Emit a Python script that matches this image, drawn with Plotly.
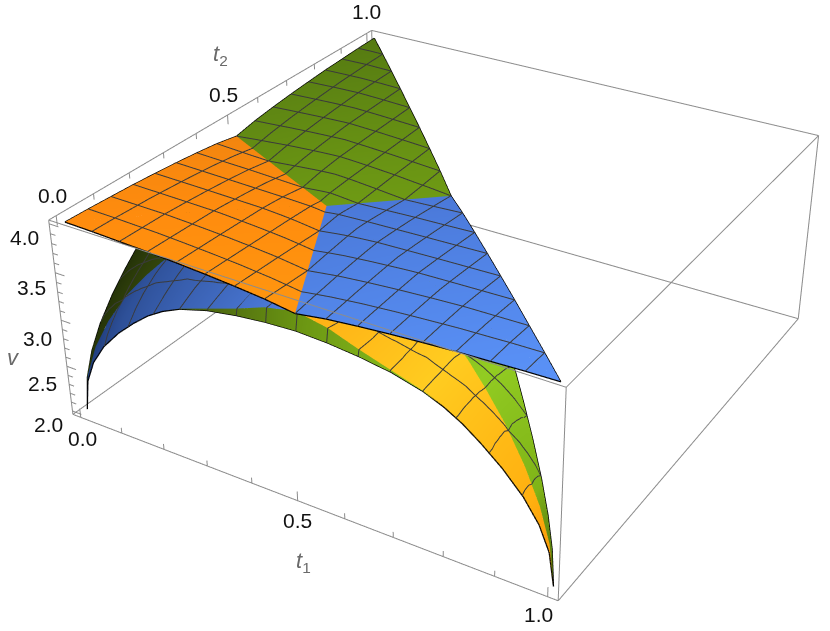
import numpy as np
import plotly.graph_objects as go

# ---- values: one sextant table, shared by symmetry ----
TOP_R = [0, 0.125, 0.25, 0.375, 0.5, 0.625, 0.75, 0.875, 1.0]
TOP_S = [0, 0.25, 0.5, 0.75, 1.0]
TOP_V = [[4.0, 4.0, 4.0, 4.0, 4.0],
         [3.992, 3.992, 3.992, 3.992, 3.992],
         [3.98, 3.98, 3.98, 3.98, 3.98],
         [3.968, 3.969, 3.97, 3.97, 3.97],
         [3.95, 3.952, 3.954, 3.955, 3.955],
         [3.93, 3.933, 3.936, 3.938, 3.94],
         [3.905, 3.91, 3.914, 3.918, 3.92],
         [3.875, 3.88, 3.888, 3.895, 3.90],
         [3.83, 3.84, 3.85, 3.86, 3.87]]
LOW_R = [0, 0.02, 0.06, 0.12, 0.2, 0.28, 0.35, 0.42, 0.5, 0.62, 0.75, 0.87, 1.0]
LOW_EDGE = [2.0, 2.33, 2.57, 2.79, 3.0, 3.17, 3.30, 3.40, 3.485, 3.565, 3.615, 3.645, 3.66]
LENS_S = [0, 0, 0, 0, 0, 0, 0, 0, 0.002, 0.006, 0.012, 0.016, 0.02]
LOW_F = [0, 0.25, 0.5, 0.75, 1.0]
LOW_V = [[2.0, 2.0, 2.0, 2.0, 2.0],
         [2.33, 2.37, 2.38, 2.39, 2.39],
         [2.57, 2.62, 2.65, 2.66, 2.67],
         [2.79, 2.85, 2.89, 2.92, 2.93],
         [3.00, 3.08, 3.13, 3.17, 3.18],
         [3.17, 3.24, 3.30, 3.34, 3.36],
         [3.30, 3.37, 3.43, 3.47, 3.49],
         [3.40, 3.46, 3.52, 3.57, 3.59],
         [3.49, 3.56, 3.62, 3.66, 3.68],
         [3.58, 3.64, 3.69, 3.72, 3.74],
         [3.675, 3.72, 3.75, 3.77, 3.78],
         [3.775, 3.78, 3.785, 3.785, 3.78],
         [3.83, 3.81, 3.80, 3.79, 3.78]]
CORNERS = {"a": (0, 0), "b": (1, 0), "c": (0, 1)}
MIDS = {"ab": (0.5, 0), "ac": (0, 0.5), "bc": (0.5, 0.5)}
CENTRE = (1 / 3, 1 / 3)
SEXTANTS = [("a", "ab"), ("a", "ac"), ("b", "ab"), ("b", "bc"), ("c", "ac"), ("c", "bc")]
TICKS = [0, .1, .2, .3, .4, .5, .6, .7, .8, .9, 1]
V_TICKS = [2 + .1 * i for i in range(21)]
MESH_LEVELS = [k / 16 for k in range(1, 16)]
T_RANGE = [-0.02, 1.02]
V_RANGE = [1.96, 4.04]
BOX_T = [-0.0195, 1.0195]
BOX_V = [1.962, 4.038]

# ---- styles ----
ORANGE = [[0, "#E67E10"], [0.5, "#FF8C0E"], [1, "#FFA010"]]
TOPGREEN = [[0, "#557A12"], [1, "#6E9A14"]]
TOPBLUE = [[0, "#4A78D8"], [1, "#5A92F8"]]
LOWBLUE = [[0, "#1E3A78"], [0.2, "#2E5098"], [1, "#4F7FE0"]]
LOWGREEN = [[0, "#253308"], [0.3, "#4A6410"], [0.5, "#6A9412"], [0.8, "#92CC22"], [0.95, "#80B418"], [1, "#55780E"]]
LOWYELLOW = [[0, "#FFAE14"], [0.5, "#FFCC20"], [0.9, "#FFB010"], [1, "#F89808"]]
LINE = "#3a3a3a"
BOXLINE = "#8c8c8c"
FLAT = dict(ambient=1, diffuse=0, specular=0, roughness=1, fresnel=0)
LIFT = (0.0009, -0.0015, 0.005)  # mesh lines sit a hair towards the viewer

mesh_x, mesh_y, mesh_z = [], [], []


def place(k, m, r, s):
    K, M = np.array(CORNERS[k], float), np.array(MIDS[m], float)
    G = np.array(CENTRE)
    a = (1 - s) * (M[0] - K[0]) + s * (G[0] - K[0])
    b = (1 - s) * (M[1] - K[1]) + s * (G[1] - K[1])
    return K[0] + r * a, K[1] + r * b


def collect_mesh(x, y, z):
    """Level lines t1 = k/16 and t2 = k/16 across the patch's cells."""
    P = np.stack([x, y, z], axis=-1)
    for i in range(P.shape[0] - 1):
        for j in range(P.shape[1] - 1):
            a, b, c, d = P[i, j], P[i + 1, j], P[i + 1, j + 1], P[i, j + 1]
            for tri in ((a, b, c), (a, c, d)):
                for axis in (0, 1):
                    for lev in MESH_LEVELS:
                        pts = []
                        for u, v in ((tri[0], tri[1]), (tri[1], tri[2]), (tri[2], tri[0])):
                            du, dv = u[axis] - lev, v[axis] - lev
                            if du * dv < 0 or (du == 0 and dv != 0):
                                f = du / (du - dv)
                                pts.append(u + f * (v - u))
                        if len(pts) >= 2:
                            for p in pts[:2]:
                                mesh_x.append(p[0] + LIFT[0])
                                mesh_y.append(p[1] + LIFT[1])
                                mesh_z.append(p[2] + LIFT[2])
                            mesh_x.append(None)
                            mesh_y.append(None)
                            mesh_z.append(None)


def patch(x, y, z, field, scale, cmin, cmax):
    collect_mesh(x, y, z)
    return go.Surface(x=x, y=y, z=z, surfacecolor=field, colorscale=scale, cmin=cmin, cmax=cmax,
                      showscale=False, hoverinfo="skip", lighting=FLAT,
                      contours=dict(x=dict(highlight=False), y=dict(highlight=False), z=dict(highlight=False)))


fig = go.Figure()
TR, TS = np.array(TOP_R), np.array(TOP_S)
LR, LF = np.array(LOW_R), np.array(LOW_F)
TV, LV = np.array(TOP_V), np.array(LOW_V)
LENS = np.array(LENS_S)
EDGE = np.array(LOW_EDGE)
TOP_STYLE = {"a": (ORANGE, -1, 1), "b": (TOPBLUE, 0, 1), "c": (TOPGREEN, -1, 0)}
for k, m in SEXTANTS:
    rr, ss = np.meshgrid(TR, TS, indexing="ij")
    x, y = place(k, m, rr, ss)
    sc, lo, hi = TOP_STYLE[k]
    fig.add_trace(patch(x, y, TV, x - y, sc, lo, hi))

    # lower sheet: main part
    rr = np.repeat(LR[:, None], len(LF), axis=1)
    ss = LENS[:, None] + (1 - LENS[:, None]) * LF[None, :]
    x, y = place(k, m, rr, ss)
    front = m == "ab"
    if front and k == "a":
        sc = LOWBLUE
        lo, hi = 0, 0.5
    elif front:
        sc = LOWYELLOW
        lo, hi = 0.5, 1
    else:
        sc = LOWGREEN
        lo, hi = 0, 1
    fig.add_trace(patch(x, y, LV, x, sc, lo, hi))

    # green strip along the edge, below the main part
    ss2 = np.stack([0 * LENS, LENS], axis=1)
    rr2 = np.repeat(LR[:, None], 2, axis=1)
    x2, y2 = place(k, m, rr2, ss2)
    z2 = np.stack([EDGE, LV[:, 0]], axis=1)
    fig.add_trace(patch(x2, y2, z2, x2, LOWGREEN, 0, 1))

    # boundary lines
    ex, ey = place(k, m, TR, 0 * TR)
    fig.add_trace(go.Scatter3d(x=ex, y=ey, z=TV[:, 0], mode="lines", line=dict(color="black", width=2.5),
                               hoverinfo="skip", showlegend=False))
    ex, ey = place(k, m, LR, 0 * LR)
    fig.add_trace(go.Scatter3d(x=ex, y=ey, z=EDGE, mode="lines", line=dict(color="black", width=2.5),
                               hoverinfo="skip", showlegend=False))

fig.add_trace(go.Scatter3d(x=mesh_x, y=mesh_y, z=mesh_z, mode="lines", line=dict(color=LINE, width=2),
                           hoverinfo="skip", showlegend=False))

# box edges (a hair inside the axis ranges so nothing is clipped)
lo, hi = BOX_T
zl, zh = BOX_V
bx, by, bz = [], [], []
for p, q in [((lo, lo, zl), (hi, lo, zl)), ((hi, lo, zl), (hi, hi, zl)), ((hi, hi, zl), (lo, hi, zl)), ((lo, hi, zl), (lo, lo, zl)),
             ((lo, lo, zh), (hi, lo, zh)), ((hi, lo, zh), (hi, hi, zh)), ((hi, hi, zh), (lo, hi, zh)), ((lo, hi, zh), (lo, lo, zh)),
             ((lo, lo, zl), (lo, lo, zh)), ((hi, lo, zl), (hi, lo, zh)), ((hi, hi, zl), (hi, hi, zh)), ((lo, hi, zl), (lo, hi, zh))]:
    bx += [p[0], q[0], None]
    by += [p[1], q[1], None]
    bz += [p[2], q[2], None]
fig.add_trace(go.Scatter3d(x=bx, y=by, z=bz, mode="lines", line=dict(color=BOXLINE, width=2), hoverinfo="skip", showlegend=False))

# ticks
tx, ty, tz = [], [], []
for i, t in enumerate(TICKS):
    major = i in (0, 5, 10)
    L = 0.1 if major else 0.06
    tx += [t, t, None]
    ty += [lo, lo, None]
    tz += [zl, zl + L, None]
    tx += [lo, lo, None]
    ty += [t, t, None]
    tz += [zh, zh - L, None]
for i, t in enumerate(V_TICKS):
    L = 0.022 if i % 5 == 0 else 0.012
    tx += [lo, lo + L, None]
    ty += [lo, lo, None]
    tz += [t, t, None]
fig.add_trace(go.Scatter3d(x=tx, y=ty, z=tz, mode="lines", line=dict(color=BOXLINE, width=2), hoverinfo="skip", showlegend=False))

FONT = dict(family="Liberation Sans, Arial, sans-serif", size=21, color="#111111")
TITLE = dict(family="Liberation Sans, Arial, sans-serif", size=22, color="#6a6a6a")


def note(x, y, z, text, dx, dy, font=FONT):
    return dict(x=x, y=y, z=z, text=text, showarrow=False, xshift=dx, yshift=-dy, font=font,
                xanchor="center", yanchor="middle")


notes = [
    note(lo, 0, zh, "0.0", -4, -20), note(lo, 0.5, zh, "0.5", -4, -21), note(lo, 1, zh, "1.0", 0, -22),
    note(lo, 0.5, zh, "<i>t</i><sub>2</sub>", -7, -60, TITLE),
    note(lo, lo, 4, "4.0", -25, 14), note(lo, lo, 3.5, "3.5", -24, 15), note(lo, lo, 3, "3.0", -24, 18),
    note(lo, lo, 2.5, "2.5", -24, 17), note(lo, lo, 2, "2.0", -24, 13),
    note(lo, lo, 3, "<i>v</i>", -48, 37, TITLE),
    note(0, lo, zl, "0.0", 2, 21), note(0.5, lo, zl, "0.5", 0, 20), note(1, lo, zl, "1.0", -9, 18),
    note(0.5, lo, zl, "<i>t</i><sub>1</sub>", 6, 61, TITLE),
]

hidden = dict(visible=False, range=T_RANGE, autorange=False)
fig.update_layout(
    width=1800, height=1498, margin=dict(l=0, r=0, t=0, b=0), paper_bgcolor="white", showlegend=False,
    scene=dict(
        domain=dict(x=[0, 1], y=[0, 1]),
        xaxis=hidden, yaxis=hidden,
        zaxis=dict(visible=False, range=V_RANGE, autorange=False),
        aspectmode="manual", aspectratio=dict(x=1, y=1, z=0.4),
        camera=dict(eye=dict(x=1.5005, y=-2.472, z=1.6486), center=dict(x=0, y=0, z=0), up=dict(x=0, y=0, z=1),
                    projection=dict(type="perspective")),
        annotations=notes,
        bgcolor="white",
    ),
)

fig.write_html("out.html", post_script=(
    "var g=document.getElementById('{plot_id}');"
    "g.style.position='absolute';g.style.left='-449px';g.style.top='-476px';"
    "document.body.style.overflow='hidden';document.documentElement.style.overflow='hidden';"
))
